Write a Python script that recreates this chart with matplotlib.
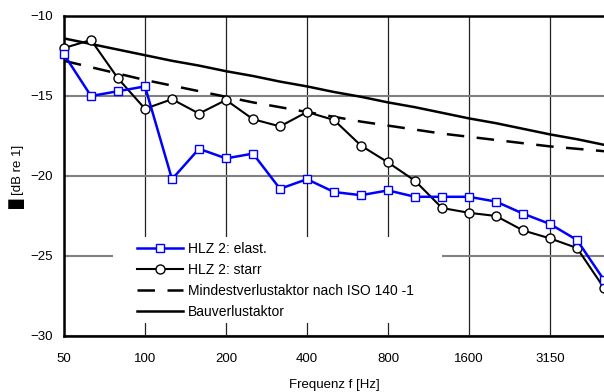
import matplotlib
matplotlib.use('Agg')
import matplotlib.pyplot as plt
from matplotlib.patches import Rectangle

plt.rcParams['font.family'] = ['Liberation Sans', 'DejaVu Sans']

# Terzmittenfrequenzen
freqs = [50, 63, 80, 100, 125, 160, 200, 250, 315, 400, 500, 630, 800,
         1000, 1250, 1600, 2000, 2500, 3150, 4000, 5000]

# HLZ 2: elast. (dB re 1)
elast = [-12.4, -15.0, -14.7, -14.4, -20.2, -18.3, -18.9, -18.6, -20.8, -20.2,
         -21.0, -21.2, -20.9, -21.3, -21.3, -21.3, -21.6, -22.35, -23.0, -24.0, -26.5]
# HLZ 2: starr
starr = [-12.0, -11.5, -13.9, -15.8, -15.2, -16.1, -15.25, -16.45, -16.9, -16.0,
         -16.5, -18.1, -19.15, -20.3, -22.0, -22.3, -22.5, -23.4, -23.9, -24.5, -27.0]
# Mindestverlustfaktor nach ISO 140-1
mindest = [-12.8, -13.2, -13.6, -14.0, -14.35, -14.7, -15.05, -15.4, -15.7, -16.0,
           -16.3, -16.6, -16.85, -17.1, -17.35, -17.55, -17.75, -17.95, -18.15, -18.3, -18.45]
# Bauverlustfaktor
bau = [-11.4, -11.75, -12.1, -12.45, -12.8, -13.1, -13.45, -13.75, -14.1, -14.4,
       -14.75, -15.05, -15.4, -15.7, -16.05, -16.4, -16.7, -17.05, -17.4, -17.7, -18.05]

tick_labels = ['50', '100', '200', '400', '800', '1600', '3150']

x = list(range(len(freqs)))

fig = plt.figure(figsize=(6.04, 3.92), dpi=100)
ax = fig.add_axes([64 / 604, 1 - 336 / 392, 1 - 64 / 604, 320 / 392])

ax.plot(x, elast, color='#0000ff', lw=1.8, marker='s', ms=6, mfc='white',
        mec='#0000ff', mew=1.0, label='HLZ 2: elast.', zorder=5, clip_on=False)
ax.plot(x, starr, color='black', lw=1.5, marker='o', ms=6.5, mfc='white',
        mec='black', mew=1.0, label='HLZ 2: starr', zorder=4, clip_on=False)
ax.plot(x, mindest, color='black', lw=1.8, dashes=(7, 5),
        label='Mindestverlustaktor nach ISO 140 -1', zorder=3)
ax.plot(x, bau, color='black', lw=1.8, label='Bauverlustaktor', zorder=3)

ax.set_xlim(0, 20)
ax.set_ylim(-30, -10)
ax.set_xticks([0, 3, 6, 9, 12, 15, 18])
ax.set_xticklabels(tick_labels)
ax.set_yticks([-30, -25, -20, -15, -10])
ax.tick_params(axis='y', length=0, labelsize=9.5, pad=8)
ax.tick_params(axis='x', length=0, labelsize=9.5, pad=12)

ax.grid(axis='y', color='#808080', lw=1.5)
ax.grid(axis='x', color='#222222', lw=0.9)
ax.set_axisbelow(True)

for s in ['left', 'bottom', 'top']:
    ax.spines[s].set_linewidth(1.8)
ax.spines['right'].set_visible(False)

ax.set_xlabel('Frequenz f [Hz]', fontsize=9.5, labelpad=10)
ax.set_ylabel('\u2588 [dB re 1]', fontsize=9.5, labelpad=4)

# weisser Hintergrund hinter der Legende (unterbricht das Gitter)
ax.add_patch(Rectangle((113 / 604, 1 - 323 / 392), 329 / 604, 86 / 392,
                       transform=fig.transFigure, facecolor='white',
                       edgecolor='none', zorder=2))

leg = ax.legend(loc='upper left', bbox_to_anchor=(137 / 604, 1 - 242 / 392),
                bbox_transform=fig.transFigure, fontsize=10, frameon=False,
                handlelength=3.3, handletextpad=0.35,
                labelspacing=0.5, borderpad=0, borderaxespad=0)
leg.set_zorder(10)

fig.savefig('out.png', dpi=100)
